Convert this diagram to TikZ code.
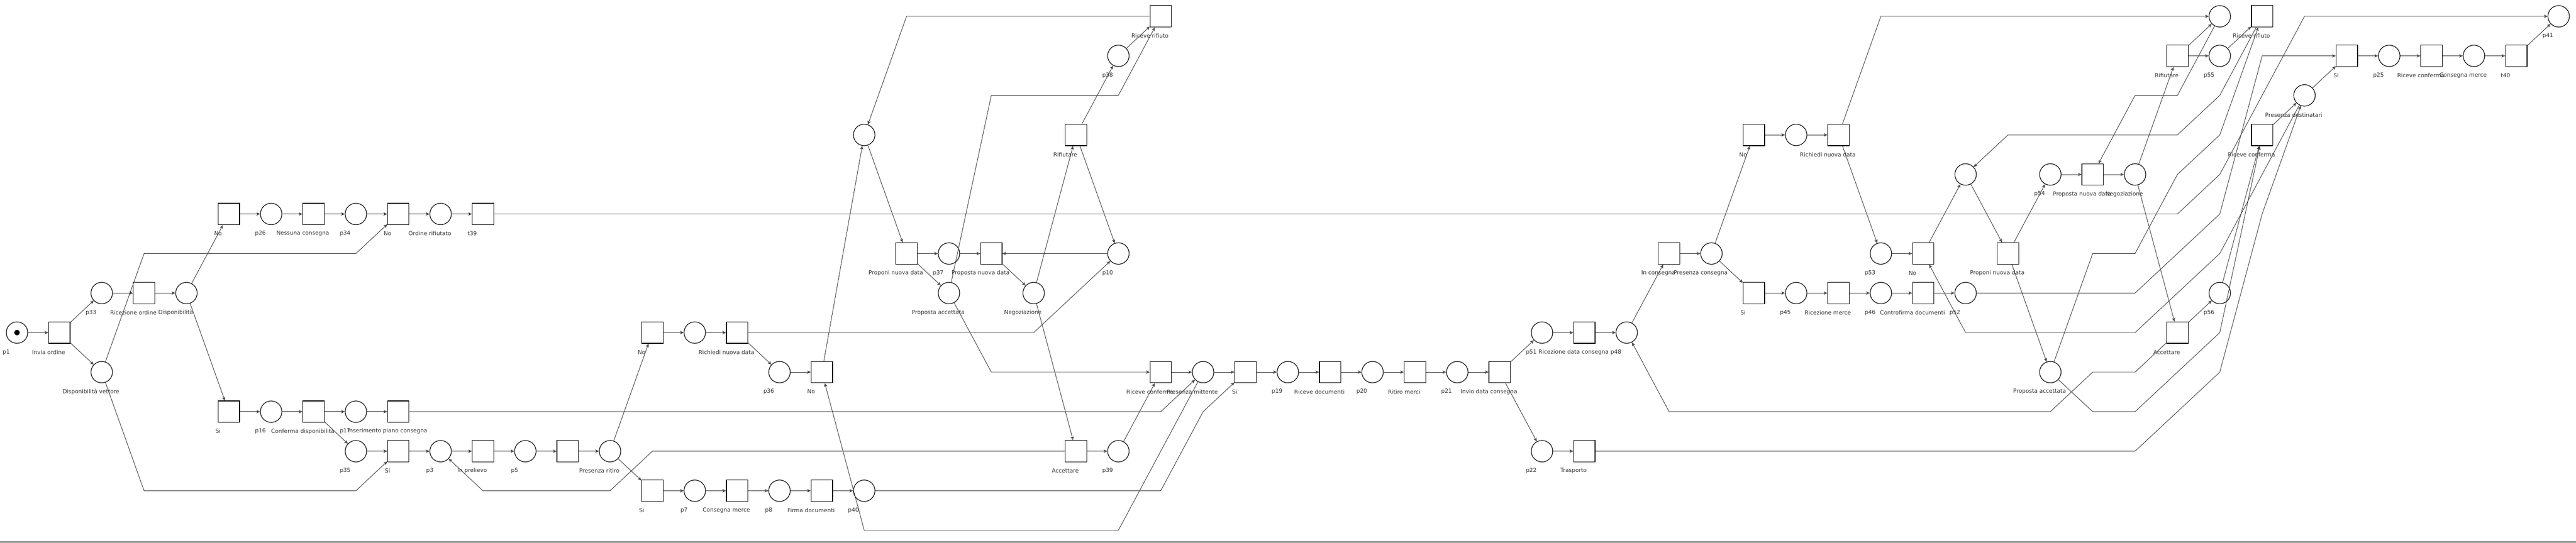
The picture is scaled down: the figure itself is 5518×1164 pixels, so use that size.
\documentclass[tikz,border=0pt]{standalone}
\usepackage{fontspec}
\setmainfont{DejaVu Sans}
\usetikzlibrary{arrows.meta}

\begin{document}
\begin{tikzpicture}[x=90.74pt, y=-84.77pt,
  place/.style={circle, draw=black, line width=1.3pt, minimum size=46pt, inner sep=0pt},
  trans/.style={rectangle, draw=black, line width=1.3pt, minimum size=46pt, inner sep=0pt},
  tag/.style={anchor=base west, xshift=-23pt, yshift=-42pt, inner sep=0pt, text=black!80, font=\fontsize{12}{14}\selectfont},
  arc/.style={draw=black!80, line width=1pt, -{Stealth[open, length=8pt, width=7pt, inset=2.5pt]}}]
\useasboundingbox (-36.4pt,35pt) rectangle (5481.6pt,-1129pt);

% Places
\node[place, label={[tag]center:p1}] (p1) at (0,8) {};
\fill (p1) circle (6pt);
\node[place, label={[tag]center:p33}] (p33) at (2,7) {};
\node[place, label={[tag]center:Disponibilità vettore}] (dispvet) at (2,9) {};
\node[place, label={[tag]center:Disponibilità}] (disp) at (4,7) {};
\node[place, label={[tag]center:p26}] (p26) at (6,5) {};
\node[place, label={[tag]center:p34}] (p34) at (8,5) {};
\node[place, label={[tag]center:Ordine rifiutato}] (rifiutato) at (10,5) {};
\node[place, label={[tag]center:p16}] (p16) at (6,10) {};
\node[place, label={[tag]center:p17}] (p17) at (8,10) {};
\node[place, label={[tag]center:p35}] (p35) at (8,11) {};
\node[place, label={[tag]center:p3}] (p3) at (10,11) {};
\node[place, label={[tag]center:p5}] (p5) at (12,11) {};
\node[place, label={[tag]center:Presenza ritiro}] (ritiro) at (14,11) {};
\node[place] (pa) at (16,8) {};
\node[place, label={[tag]center:p36}] (p36) at (18,9) {};
\node[place, label={[tag]center:p7}] (p7) at (16,12) {};
\node[place, label={[tag]center:p8}] (p8) at (18,12) {};
\node[place, label={[tag]center:p40}] (p40) at (20,12) {};
\node[place] (pb) at (20,3) {};
\node[place, label={[tag]center:p37}] (p37) at (22,6) {};
\node[place, label={[tag]center:Proposta accettata}] (propacc1) at (22,7) {};
\node[place, label={[tag]center:Negoziazione}] (negoz1) at (24,7) {};
\node[place, label={[tag]center:p10}] (p10) at (26,6) {};
\node[place, label={[tag]center:p38}] (p38) at (26,1) {};
\node[place, label={[tag]center:p39}] (p39) at (26,11) {};
\node[place, label={[tag]center:Presenza mittente}] (presmitt) at (28,9) {};
\node[place, label={[tag]center:p19}] (p19) at (30,9) {};
\node[place, label={[tag]center:p20}] (p20) at (32,9) {};
\node[place, label={[tag]center:p21}] (p21) at (34,9) {};
\node[place, label={[tag]center:p51}] (p51) at (36,8) {};
\node[place, label={[tag]center:p48}] (p48) at (38,8) {};
\node[place, label={[tag]center:p22}] (p22) at (36,11) {};
\node[place, label={[tag]center:Presenza consegna}] (prescons) at (40,6) {};
\node[place] (pc) at (42,3) {};
\node[place, label={[tag]center:p53}] (p53) at (44,6) {};
\node[place] (pd) at (46,4) {};
\node[place, label={[tag]center:p54}] (p54) at (48,4) {};
\node[place, label={[tag]center:Negoziazione}] (negoz2) at (50,4) {};
\node[place, label={[tag]center:Proposta accettata}] (propacc2) at (48,9) {};
\node[place, label={[tag]center:p45}] (p45) at (42,7) {};
\node[place, label={[tag]center:p46}] (p46) at (44,7) {};
\node[place, label={[tag]center:p52}] (p52) at (46,7) {};
\node[place] (pe) at (52,0) {};
\node[place, label={[tag]center:p55}] (p55) at (52,1) {};
\node[place, label={[tag]center:p56}] (p56) at (52,7) {};
\node[place, label={[tag]center:Presenza destinatari}] (presdest) at (54,2) {};
\node[place, label={[tag]center:p25}] (p25) at (56,1) {};
\node[place, label={[tag]center:Consegna merce}] (consegna2) at (58,1) {};
\node[place, label={[tag]center:p41}] (p41) at (60,0) {};

% Transitions
\node[trans, label={[tag]center:Invia ordine}] (invia) at (1,8) {};
\node[trans, label={[tag]center:Ricezione ordine}] (ricez) at (3,7) {};
\node[trans, label={[tag]center:No}] (no1) at (5,5) {};
\node[trans, label={[tag]center:Nessuna consegna}] (nessuna) at (7,5) {};
\node[trans, label={[tag]center:No}] (no2) at (9,5) {};
\node[trans, label={[tag]center:t39}] (t39) at (11,5) {};
\node[trans, label={[tag]center:Si}] (si1) at (5,10) {};
\node[trans, label={[tag]center:Conferma disponibilità}] (conferma) at (7,10) {};
\node[trans, label={[tag]center:Inserimento piano consegna}] (inserimento) at (9,10) {};
\node[trans, label={[tag]center:Si}] (si2) at (9,11) {};
\node[trans, label={[tag]center:In prelievo}] (prelievo) at (11,11) {};
\node[trans] (t13) at (13,11) {};
\node[trans, label={[tag]center:No}] (no3) at (15,8) {};
\node[trans, label={[tag]center:Richiedi nuova data}] (richiedi1) at (17,8) {};
\node[trans, label={[tag]center:No}] (no4) at (19,9) {};
\node[trans, label={[tag]center:Si}] (si3) at (15,12) {};
\node[trans, label={[tag]center:Consegna merce}] (consegna1) at (17,12) {};
\node[trans, label={[tag]center:Firma documenti}] (firma) at (19,12) {};
\node[trans, label={[tag]center:Proponi nuova data}] (proponi1) at (21,6) {};
\node[trans, label={[tag]center:Proposta nuova data}] (propnuova1) at (23,6) {};
\node[trans, label={[tag]center:Rifiutare}] (rifiutare1) at (25,3) {};
\node[trans, label={[tag]center:Riceve rifiuto}] (riceverif1) at (27,0) {};
\node[trans, label={[tag]center:Accettare}] (accettare1) at (25,11) {};
\node[trans, label={[tag]center:Riceve conferma}] (ricevconf1) at (27,9) {};
\node[trans, label={[tag]center:Si}] (si4) at (29,9) {};
\node[trans, label={[tag]center:Riceve documenti}] (ricevedoc) at (31,9) {};
\node[trans, label={[tag]center:Ritiro merci}] (ritiromerci) at (33,9) {};
\node[trans, label={[tag]center:Invio data consegna}] (inviodata) at (35,9) {};
\node[trans, label={[tag]center:Ricezione data consegna}] (ricezdata) at (37,8) {};
\node[trans, label={[tag]center:Trasporto}] (trasporto) at (37,11) {};
\node[trans, label={[tag]center:In consegna}] (inconsegna) at (39,6) {};
\node[trans, label={[tag]center:No}] (no5) at (41,3) {};
\node[trans, label={[tag]center:Richiedi nuova data}] (richiedi2) at (43,3) {};
\node[trans, label={[tag]center:No}] (no6) at (45,6) {};
\node[trans, label={[tag]center:Proponi nuova data}] (proponi2) at (47,6) {};
\node[trans, label={[tag]center:Proposta nuova data}] (propnuova2) at (49,4) {};
\node[trans, label={[tag]center:Si}] (si5) at (41,7) {};
\node[trans, label={[tag]center:Ricezione merce}] (ricezmerce) at (43,7) {};
\node[trans, label={[tag]center:Controfirma documenti}] (controfirma) at (45,7) {};
\node[trans, label={[tag]center:Rifiutare}] (rifiutare2) at (51,1) {};
\node[trans, label={[tag]center:Riceve rifiuto}] (riceverif2) at (53,0) {};
\node[trans, label={[tag]center:Accettare}] (accettare2) at (51,8) {};
\node[trans, label={[tag]center:Riceve conferma}] (ricevconf2) at (53,3) {};
\node[trans, label={[tag]center:Si}] (si6) at (55,1) {};
\node[trans, label={[tag]center:Riceve conferma}] (ricevconf3) at (57,1) {};
\node[trans, label={[tag]center:t40}] (t40) at (59,1) {};

% Arcs, ordine
\draw[arc] (p1) -- (invia);
\draw[arc] (invia) -- (p33);
\draw[arc] (invia) -- (dispvet);
\draw[arc] (p33) -- (ricez);
\draw[arc] (ricez) -- (disp);
\draw[arc] (disp) -- (no1);
\draw[arc] (disp) -- (si1);
\draw[arc] (no1) -- (p26);
\draw[arc] (p26) -- (nessuna);
\draw[arc] (nessuna) -- (p34);
\draw[arc] (p34) -- (no2);
\draw[arc] (no2) -- (rifiutato);
\draw[arc] (rifiutato) -- (t39);
\draw[arc] (si1) -- (p16);
\draw[arc] (p16) -- (conferma);
\draw[arc] (conferma) -- (p17);
\draw[arc] (p17) -- (inserimento);
\draw[arc] (conferma) -- (p35);
\draw[arc] (p35) -- (si2);
\draw[arc] (si2) -- (p3);
\draw[arc] (p3) -- (prelievo);
\draw[arc] (prelievo) -- (p5);
\draw[arc] (p5) -- (t13);
\draw[arc] (t13) -- (ritiro);
\draw[arc] (dispvet) -- (3,6) -- (8,6) -- (no2);
\draw[arc] (dispvet) -- (3,12) -- (8,12) -- (si2);

% Arcs, ritiro
\draw[arc] (ritiro) -- (no3);
\draw[arc] (no3) -- (pa);
\draw[arc] (pa) -- (richiedi1);
\draw[arc] (richiedi1) -- (p36);
\draw[arc] (p36) -- (no4);
\draw[arc] (no4) -- (pb);
\draw[arc] (ritiro) -- (si3);
\draw[arc] (si3) -- (p7);
\draw[arc] (p7) -- (consegna1);
\draw[arc] (consegna1) -- (p8);
\draw[arc] (p8) -- (firma);
\draw[arc] (firma) -- (p40);
\draw[arc] (pb) -- (proponi1);
\draw[arc] (proponi1) -- (p37);
\draw[arc] (p37) -- (propnuova1);
\draw[arc] (p10) -- (propnuova1);
\draw[arc] (proponi1) -- (propacc1);
\draw[arc] (propnuova1) -- (negoz1);
\draw[arc] (negoz1) -- (rifiutare1);
\draw[arc] (rifiutare1) -- (p38);
\draw[arc] (p38) -- (riceverif1);
\draw[arc] (rifiutare1) -- (p10);
\draw[arc] (negoz1) -- (accettare1);
\draw[arc] (accettare1) -- (p39);
\draw[arc] (p39) -- (ricevconf1);
\draw[arc] (ricevconf1) -- (presmitt);
\draw[arc] (presmitt) -- (si4);
\draw[arc] (accettare1) -- (15,11) -- (14,12) -- (11,12) -- (p3);
\draw[arc] (richiedi1) -- (24,8) -- (p10);
\draw[arc] (inserimento) -- (27,10) -- (presmitt);
\draw[arc] (presmitt) -- (26,13) -- (20,13) -- (no4);
\draw[arc] (p40) -- (27,12) -- (28,10) -- (si4);
\draw[arc] (riceverif1) -- (21,0) -- (pb);
\draw[arc] (propacc1) -- (23,2) -- (26,2) -- (riceverif1);
\draw[arc] (propacc1) -- (23,9) -- (ricevconf1);

% Arcs, consegna
\draw[arc] (si4) -- (p19);
\draw[arc] (p19) -- (ricevedoc);
\draw[arc] (ricevedoc) -- (p20);
\draw[arc] (p20) -- (ritiromerci);
\draw[arc] (ritiromerci) -- (p21);
\draw[arc] (p21) -- (inviodata);
\draw[arc] (inviodata) -- (p51);
\draw[arc] (p51) -- (ricezdata);
\draw[arc] (ricezdata) -- (p48);
\draw[arc] (inviodata) -- (p22);
\draw[arc] (p22) -- (trasporto);
\draw[arc] (p48) -- (inconsegna);
\draw[arc] (inconsegna) -- (prescons);
\draw[arc] (prescons) -- (no5);
\draw[arc] (prescons) -- (si5);
\draw[arc] (no5) -- (pc);
\draw[arc] (pc) -- (richiedi2);
\draw[arc] (richiedi2) -- (p53);
\draw[arc] (p53) -- (no6);
\draw[arc] (no6) -- (pd);
\draw[arc] (pd) -- (proponi2);
\draw[arc] (proponi2) -- (p54);
\draw[arc] (p54) -- (propnuova2);
\draw[arc] (propnuova2) -- (negoz2);
\draw[arc] (proponi2) -- (propacc2);
\draw[arc] (si5) -- (p45);
\draw[arc] (p45) -- (ricezmerce);
\draw[arc] (ricezmerce) -- (p46);
\draw[arc] (p46) -- (controfirma);
\draw[arc] (controfirma) -- (p52);
\draw[arc] (negoz2) -- (rifiutare2);
\draw[arc] (rifiutare2) -- (pe);
\draw[arc] (rifiutare2) -- (p55);
\draw[arc] (p55) -- (riceverif2);
\draw[arc] (negoz2) -- (accettare2);
\draw[arc] (accettare2) -- (p56);
\draw[arc] (p56) -- (ricevconf2);
\draw[arc] (ricevconf2) -- (presdest);
\draw[arc] (presdest) -- (si6);
\draw[arc] (si6) -- (p25);
\draw[arc] (p25) -- (ricevconf3);
\draw[arc] (ricevconf3) -- (consegna2);
\draw[arc] (consegna2) -- (t40);
\draw[arc] (t40) -- (p41);
\draw[arc] (richiedi2) -- (44,0) -- (pe);
\draw[arc] (riceverif2) -- (52,2) -- (51,3) -- (47,3) -- (pd);
\draw[arc] (pe) -- (51,2) -- (50,2) -- (propnuova2);
\draw[arc] (propacc2) -- (49,6) -- (50,6) -- (51,4) -- (52,3) -- (riceverif2);
\draw[arc] (propacc2) -- (49,10) -- (50,10) -- (52,8) -- (ricevconf2);
\draw[arc] (accettare2) -- (50,9) -- (49,9) -- (48,10) -- (39,10) -- (p48);
\draw[arc] (p52) -- (50,7) -- (52,5) -- (53,1) -- (si6);
\draw[arc] (presdest) -- (52,6) -- (50,8) -- (46,8) -- (no6);
\draw[arc] (trasporto) -- (50,11) -- (52,9) -- (53,5) -- (presdest);
\draw[arc] (t39) -- (51,5) -- (52,4) -- (54,0) -- (p41);

% Bottom border
\draw[line width=3pt, black!85] (-36.4pt,-1127pt) -- (5481.6pt,-1127pt);
\end{tikzpicture}
\end{document}
